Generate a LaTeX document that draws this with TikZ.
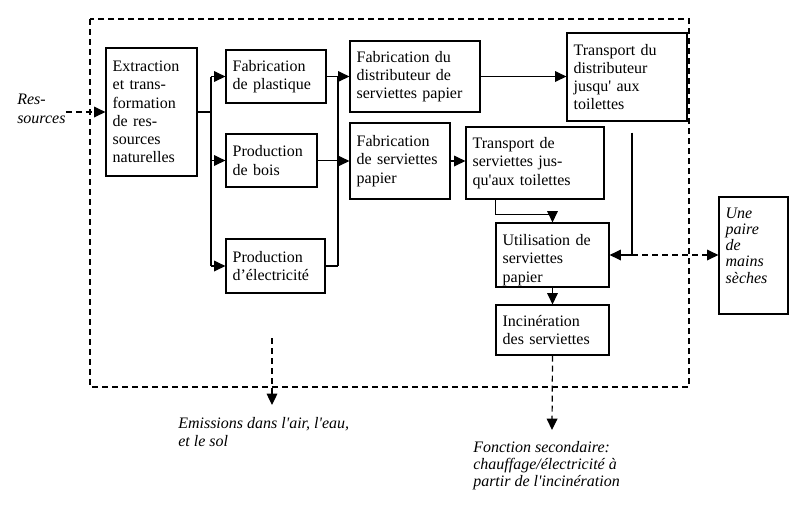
\documentclass[tikz,border=0pt]{standalone}
\usepackage{fontspec}
\setmainfont{Liberation Serif}
\usetikzlibrary{arrows.meta,positioning}

\begin{document}
\begin{tikzpicture}[x=0.75pt,y=-0.75pt,
      stage/.style={
         draw=black,
         line width=0.9pt,
         rectangle,
         align=left,
         inner xsep=5pt,
         inner ysep=0pt,
         font=\fontsize{12}{13.7}\selectfont},
      note/.style={
         align=left,
         inner sep=0pt,
         font=\fontsize{12}{13.7}\selectfont\itshape},
      flow/.style={-{Triangle[length=8.5pt,width=8pt]},line width=0.9pt},
      line/.style={line width=0.9pt},
      dflow/.style={flow,dash pattern=on 4.5pt off 3pt},
      ]
      \useasboundingbox (0,0) rectangle (800,512);

      % system boundary
      \draw[line width=0.9pt,dash pattern=on 4.5pt off 3pt] (90,19) rectangle (689,387);

      \node[stage,text width=58.25pt,minimum height=96pt] (extr) at (151.5,112)
         {Extraction\\et trans-\\formation\\de res-\\sources\\naturelles};
      \node[stage,text width=65pt,minimum height=39.75pt] (plast) at (276,76.5)
         {Fabrication\\de plastique};
      \node[stage,text width=58.25pt,minimum height=39.75pt] (bois) at (271.5,160.5)
         {Production\\de bois};
      \node[stage,text width=64.25pt,minimum height=40.5pt] (elec) at (275.5,266)
         {Production\\d’électricité};
      \node[stage,text width=87.5pt,minimum height=53.25pt] (distr) at (415,76.5)
         {Fabrication du\\distributeur de\\serviettes papier};
      \node[stage,text width=65pt,minimum height=57pt] (servi) at (400,161)
         {Fabrication\\de serviettes\\papier};
      \node[stage,text width=80pt,minimum height=66pt] (tdist) at (627,77)
         {Transport du\\distributeur\\jusqu\textquotesingle{} aux\\toilettes};
      \node[stage,text width=93.5pt,minimum height=54pt] (tserv) at (535,163)
         {Transport de\\serviettes jus-\\qu\textquotesingle{}aux toilettes};
      \node[stage,text width=74.75pt,minimum height=48pt] (util) at (552.5,255)
         {\mbox{}\\[2pt]Utilisation de\\serviettes\\papier};
      \node[stage,text width=74.75pt,minimum height=37.5pt] (incin) at (552.5,330)
         {Incinération\\des serviettes};
      \node[stage,text width=41.75pt,minimum height=87.75pt,
            font=\fontsize{12}{12.2}\selectfont\itshape] (paire) at (753.5,255.5)
         {Une\\paire\\de\\mains\\sèches\\[3pt]\mbox{}};

      \node[note,anchor=north west] (res) at (17,94) {Res-\\sources};
      \node[note,anchor=north west] (emis) at (178,417)
         {Emissions dans l\textquotesingle{}air, l\textquotesingle{}eau,\\et le sol};
      \node[note,anchor=north west,font=\fontsize{12}{12.8}\selectfont\itshape] (fonc) at (473,441)
         {Fonction secondaire:\\chauffage/électricité à\\partir de l\textquotesingle{}incinération};

      \coordinate (busL) at (211,113);
      \coordinate (busR) at (338,77);
      \coordinate (tap) at (632,255);
      \coordinate (emit) at (272,338);
      \coordinate (emitEnd) at (272,405);
      \coordinate (fonEnd) at (552,430);

      % inputs
      \draw[dflow] (res.east |- extr.west) -- (extr.west);
      \draw[line] (extr.east) -- (extr.east -| busL);
      \draw[line] (busL |- plast.west) -- (busL |- elec.west);
      \foreach \n in {plast,bois,elec}
         \draw[flow] (busL |- \n.west) -- (\n.west);

      % materials
      \foreach \n in {plast,bois,elec}
         \draw[line] (\n.east) -- (\n.east -| busR);
      \draw[line] (busR |- plast.east) -- (busR |- elec.east);
      \draw[flow] (busR |- distr.west) -- (distr.west);
      \draw[flow] (busR |- servi.west) -- (servi.west);

      % transport and use
      \draw[flow] (distr.east) -- (distr.east -| tdist.west);
      \draw[flow] (servi.east) -- (servi.east -| tserv.west);
      \draw[flow] (util.west |- tserv.south) -- ++(0,15) -| (util.north);
      \draw[flow] ([yshift=-8.25pt]tap |- tdist.south) -- (tap) -- (util.east);
      \draw[dflow] (tap) -- (tap -| paire.west);
      \draw[flow] (util.south) -- (incin.north);

      % outputs
      \draw[dflow] (incin.south) -- (fonEnd);
      \draw[dflow] (emit) -- (emitEnd);
\end{tikzpicture}
\end{document}
